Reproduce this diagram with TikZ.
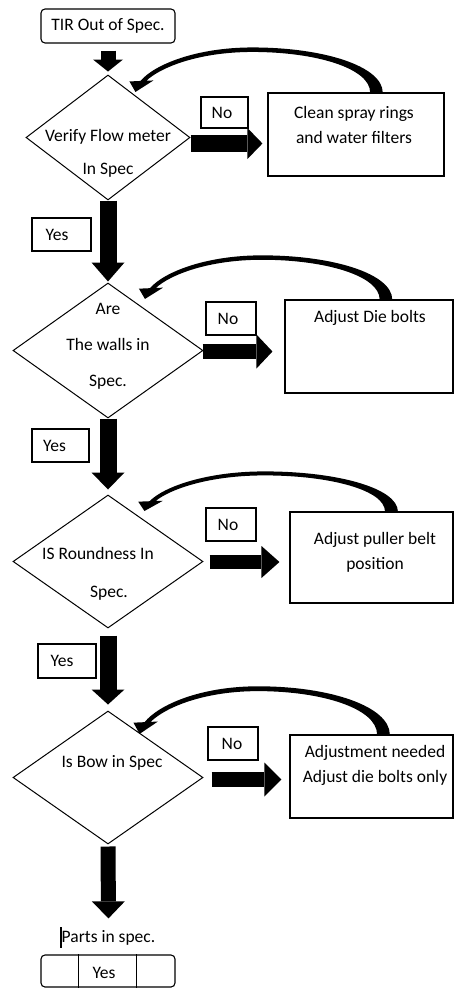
\documentclass[tikz,border=0pt]{standalone}
\usepackage{fontspec}
\setmainfont{Carlito}
\usetikzlibrary{shapes.geometric,arrows.meta,calc}
\newcommand\cvarrow[3]{%
  \begin{scope}[shift={(#1)}, xscale=#2, yscale=#3]
    \fill (6.3,0) .. controls (6,-26) and (-52,-45) .. (-124,-45)
      .. controls (-180,-45) and (-222,-28) .. (-236,-11.5)
      -- (-247,-11) -- (-241,-0.5) -- (-223,-12) -- (-230,-11.8)
      .. controls (-216,-25) and (-178,-40.5) .. (-124,-40.5)
      .. controls (-60,-40.5) and (-6.3,-24) .. (-6.3,0) -- cycle;
  \end{scope}}
\begin{document}
\begin{tikzpicture}[x=1pt,y=-1pt,
  fnt/.style={font=\fontsize{17.5}{25}\selectfont},
  txt/.style={fnt, inner sep=0pt, align=center},
  thinbox/.style={draw, line width=1.1pt, inner sep=0pt, fnt},
  dia/.style={diamond, draw, line width=1pt, inner sep=0pt},
  blk/.style n args={3}{line width=#1, -{Triangle[width=#2, length=#3, line width=0pt]}}]
\useasboundingbox (0,0) rectangle (455,988);

% start
\node[thinbox, rounded corners=4pt, minimum width=134pt, minimum height=34pt] (start) at (108,26) {TIR Out of Spec.};

% decision 1
\node[dia, minimum width=164pt, minimum height=125pt] (d1) at (108,137.5) {};
\node[txt] (d1t) at (108,153.5) {Verify Flow meter\\[8pt]In Spec};
\node[thinbox, minimum width=47pt, minimum height=31pt] (n1) at (224.5,112.5) {No\hspace*{5pt}};
\node[thinbox, minimum width=176pt, minimum height=83pt] (b1) at (356,134.5) {};
\node[txt] (b1t) at (354,124.5) {Clean spray rings\\and water filters};

% decision 2
\node[thinbox, minimum width=59pt, minimum height=33pt] (y1) at (61.5,234.5) {Yes\hspace*{9pt}};
\node[dia, minimum width=190pt, minimum height=135pt] (d2) at (108,350.5) {};
\node[txt] (d2t) at (108,346) {Are\\[11pt]The walls in\\[11pt]Spec.};
\node[thinbox, minimum width=50pt, minimum height=33pt] (n2) at (231,318.5) {No\hspace*{6pt}};
\node[thinbox, minimum width=168pt, minimum height=93pt] (b2) at (369,346.5) {};
\node[txt] (b2t) at (370,318) {Adjust Die bolts};

% decision 3
\node[thinbox, minimum width=57pt, minimum height=33pt] (y2) at (60.5,445.5) {Yes\hspace*{12pt}};
\node[dia, minimum width=190pt, minimum height=133pt] (d3) at (108,561.5) {};
\node[txt] (d3t) at (98,574) {IS Roundness In\\[13pt]\hspace*{22pt}Spec.};
\node[thinbox, minimum width=50pt, minimum height=33pt] (n3) at (231,524.5) {No\hspace*{6pt}};
\node[thinbox, minimum width=163pt, minimum height=91pt] (b3) at (371.5,557.5) {};
\node[txt] (b3t) at (375,552) {Adjust puller belt\\position};

% decision 4
\node[thinbox, minimum width=58pt, minimum height=34pt] (y3) at (67,661) {Yes\hspace*{10pt}};
\node[dia, minimum width=190pt, minimum height=133pt] (d4) at (108,777.5) {};
\node[txt] (d4t) at (112,763) {Is Bow in Spec};
\node[thinbox, minimum width=50pt, minimum height=33pt] (n4) at (233,743.5) {No\hspace*{2pt}};
\node[thinbox, minimum width=163pt, minimum height=83pt] (b4) at (371.5,776.5) {};
\node[txt] (b4t) at (375,765.5) {Adjustment needed\\Adjust die bolts only};

% end
\node[txt] (parts) at (108.5,938) {Parts in spec.};
\draw[line width=1.2pt] ($(parts.west)+(-0.5,-11)$) -- ($(parts.west)+(-0.5,10)$);
\node[thinbox, rounded corners=4pt, minimum width=134pt, minimum height=32pt] (yb) at (108,971) {};
\draw[line width=1.1pt] ($(yb.north west)+(38,0)$) -- ($(yb.south west)+(38,0)$);
\draw[line width=1.1pt] ($(yb.north west)+(96,0)$) -- ($(yb.south west)+(96,0)$);
\node[txt] (ybt) at (104,973) {Yes};

% down block arrows
\draw[blk={15pt}{30pt}{12pt}, shorten <=7pt, shorten >=3pt] (start.south) -- (d1.north);
\draw[blk={17pt}{33pt}{19pt}, shorten >=1pt] (d1.south) -- (d2.north);
\draw[blk={17pt}{33pt}{17pt}, shorten >=5pt] (d2.south) -- (d3.north);
\draw[blk={17pt}{33pt}{15pt}, shorten <=7pt, shorten >=6pt] (d3.south) -- (d4.north);
\draw[blk={15pt}{33pt}{17pt}, shorten <=2pt] (d4.south) -- ($(parts.north)+(0,-12)$);

% right block arrows
\coordinate (r1) at ($(d1.east)+(0,6)$);
\draw[blk={17pt}{31pt}{15pt}, shorten >=5pt] (r1) -- (r1 -| b1.west);
\coordinate (r2) at ($(d2.east)+(-1,1)$);
\draw[blk={15pt}{34pt}{16pt}, shorten >=12pt] (r2) -- (r2 -| b2.west);
\coordinate (r3) at ($(d3.east)+(0,0.5)$);
\draw[blk={14pt}{32pt}{18pt}, shorten <=6pt, shorten >=10pt] (r3) -- (r3 -| b3.west);
\coordinate (r4) at ($(d4.east)+(0,2)$);
\draw[blk={15pt}{34pt}{17pt}, shorten <=8pt, shorten >=8pt] (r4) -- (r4 -| b4.west);

% curved return arrows
\coordinate (t1) at ($(b1.north west)+(109,0)$);
\coordinate (t2) at ($(b2.north west)+(101.5,0)$);
\coordinate (t3) at ($(b3.north west)+(102,0)$);
\coordinate (t4) at ($(b4.north west)+(94,0)$);
\cvarrow{t1}{1}{1}
\cvarrow{t2}{1}{0.98}
\cvarrow{t3}{1.025}{0.89}
\cvarrow{t4}{1.012}{1.07}
\end{tikzpicture}
\end{document}
